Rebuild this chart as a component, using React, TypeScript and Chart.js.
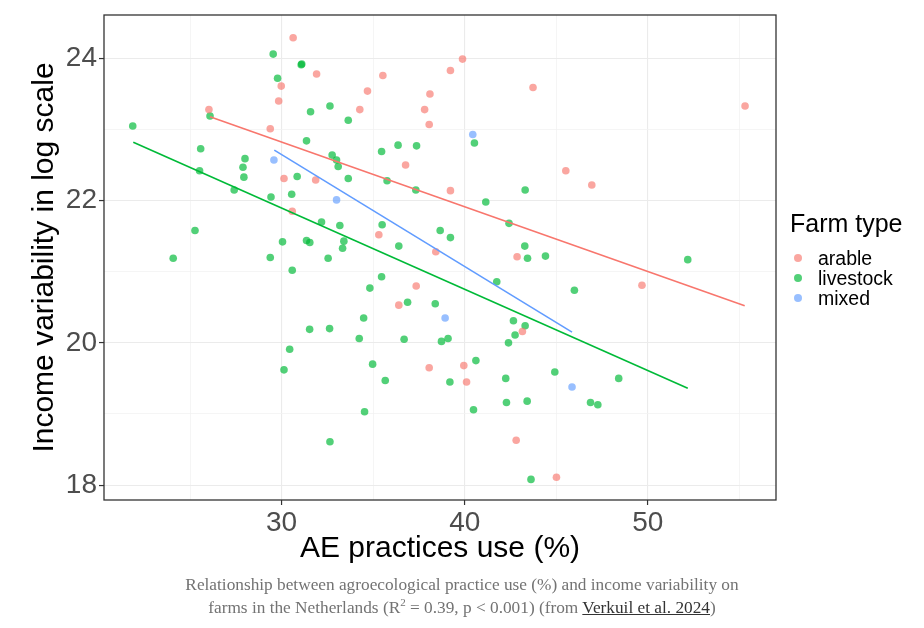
import React, { useEffect, useRef } from "react";
import { Chart, registerables } from "chart.js";

Chart.register(...registerables);

// ---- Data ----
const arableX = [30.63, 31.91, 29.98, 29.84, 26.03, 29.38, 30.13, 31.86, 30.58, 34.27, 34.69, 35.53, 39.22, 39.88, 38.1, 37.81, 38.06, 43.73, 45.52, 36.77, 39.22, 35.31, 38.42, 42.86, 55.31, 46.94, 37.35, 36.4, 43.15, 38.06, 39.95, 40.1, 42.81, 45.01, 49.68];
const arableY = [24.29, 23.78, 23.61, 23.4, 23.28, 23.01, 22.31, 22.29, 21.85, 23.28, 23.54, 23.76, 23.83, 23.99, 23.5, 23.28, 23.07, 23.59, 22.42, 22.5, 22.14, 21.52, 21.28, 21.21, 23.33, 22.22, 20.8, 20.53, 20.16, 19.65, 19.68, 19.45, 18.63, 18.11, 20.81];

const livestockX = [29.54, 31.07, 31.1, 29.78, 26.09, 32.64, 31.58, 21.87, 31.36, 32.76, 33.0, 33.09, 25.58, 28.0, 27.89, 25.52, 27.94, 27.41, 30.85, 29.42, 30.55, 25.27, 30.05, 31.36, 31.54, 32.18, 33.18, 24.08, 29.38, 32.54, 30.58, 31.53, 32.62, 30.44, 30.13, 32.64, 33.64, 40.53, 35.46, 36.36, 37.37, 33.64, 35.76, 37.33, 43.3, 41.15, 35.49, 33.4, 33.33, 36.4, 38.66, 39.22, 42.42, 43.43, 44.41, 43.28, 52.18, 35.46, 34.82, 36.88, 38.39, 41.75, 34.48, 34.24, 36.69, 38.73, 39.09, 42.66, 43.3, 42.75, 42.39, 34.97, 35.66, 40.61, 39.19, 42.24, 44.92, 42.28, 43.41, 34.53, 40.48, 43.62, 45.99, 48.41, 46.87, 47.27];
const livestockY = [24.06, 23.91, 23.92, 23.72, 23.19, 23.33, 23.25, 23.05, 22.84, 22.64, 22.57, 22.48, 22.73, 22.59, 22.47, 22.42, 22.33, 22.15, 22.34, 22.05, 22.09, 21.58, 21.42, 21.44, 21.41, 21.7, 21.65, 21.19, 21.2, 21.19, 21.02, 20.19, 20.2, 19.91, 19.62, 18.61, 23.13, 22.81, 22.69, 22.78, 22.77, 22.31, 22.28, 22.15, 22.15, 21.98, 21.66, 21.43, 21.33, 21.36, 21.58, 21.48, 21.68, 21.19, 21.22, 21.36, 21.17, 20.93, 20.77, 20.57, 20.55, 20.86, 20.35, 20.06, 20.05, 20.02, 20.06, 20.31, 20.24, 20.11, 20.0, 19.7, 19.47, 19.75, 19.45, 19.5, 19.59, 19.16, 19.18, 19.03, 19.06, 18.08, 20.74, 19.5, 19.16, 19.13];

const mixedX = [29.58, 33.0, 40.44, 38.93, 45.86];
const mixedY = [22.57, 22.01, 22.93, 20.35, 19.38];

// Fitted regression lines (end points)
const arableFitX = [26.09, 55.29];
const arableFitY = [23.18, 20.52];
const livestockFitX = [21.9, 52.18];
const livestockFitY = [22.82, 19.36];
const mixedFitX = [29.6, 45.86];
const mixedFitY = [22.71, 20.15];

// Axes
const xTicks = [25, 30, 35, 40, 45, 50, 55];
const xMajor = [30, 40, 50];
const yTicks = [18, 19, 20, 21, 22, 23, 24];
const yMajor = [18, 20, 22, 24];
const xMin = 20.3;
const xMax = 57.0;
const yMin = 17.79;
const yMax = 24.61;

const seriesNames = ["arable", "livestock", "mixed"];
const pointColors = ["rgba(248,118,109,0.65)", "rgba(0,186,56,0.68)", "rgba(97,156,255,0.65)"];
const lineColors = ["#F8766D", "#00BA38", "#619CFF"];

const zip = (xs: number[], ys: number[]) => xs.map((x, i) => ({ x, y: ys[i] }));

const panelBorder = {
  id: "panelBorder",
  afterDraw(chart: any) {
    const { ctx, chartArea } = chart;
    ctx.save();
    ctx.strokeStyle = "#333333";
    ctx.lineWidth = 1.3;
    ctx.strokeRect(chartArea.left, chartArea.top, chartArea.right - chartArea.left, chartArea.bottom - chartArea.top);
    ctx.restore();
  },
};

const FONT = "'Liberation Sans', Arial, sans-serif";

export default function App() {
  const canvasRef = useRef<HTMLCanvasElement | null>(null);

  useEffect(() => {
    if (!canvasRef.current) return;
    const pointSets = [zip(arableX, arableY), zip(livestockX, livestockY), zip(mixedX, mixedY)];
    const fitSets = [zip(arableFitX, arableFitY), zip(livestockFitX, livestockFitY), zip(mixedFitX, mixedFitY)];
    const datasets: any[] = [];
    fitSets.forEach((d, i) => {
      datasets.push({
        type: "line",
        label: seriesNames[i] + " fit",
        data: d,
        borderColor: lineColors[i],
        borderWidth: 1.6,
        pointRadius: 0,
        fill: false,
        showLine: true,
        order: 0,
      });
    });
    pointSets.forEach((d, i) => {
      datasets.push({
        type: "scatter",
        label: seriesNames[i],
        data: d,
        backgroundColor: pointColors[i],
        borderWidth: 0,
        pointRadius: 3.8,
        order: 1,
      });
    });

    const chart = new Chart(canvasRef.current, {
      type: "scatter",
      data: { datasets },
      plugins: [panelBorder],
      options: {
        responsive: false,
        animation: false,
        devicePixelRatio: 1,
        layout: { padding: { top: 15, right: 148, left: 0, bottom: 0 } },
        plugins: { legend: { display: false }, tooltip: { enabled: false } },
        scales: {
          x: {
            type: "linear",
            min: xMin,
            max: xMax,
            afterBuildTicks: (scale: any) => {
              scale.ticks = xTicks.map((v) => ({ value: v }));
            },
            afterFit: (scale: any) => {
              scale.height = 128;
              scale.paddingLeft = 0;
              scale.paddingRight = 0;
            },
            border: { display: false },
            grid: {
              color: (c: any) => (xMajor.includes(c.tick?.value) ? "#ebebeb" : "#f3f3f3"),
              lineWidth: (c: any) => (xMajor.includes(c.tick?.value) ? 1.1 : 0.8),
              tickColor: (c: any) => (xMajor.includes(c.tick?.value) ? "#333333" : "rgba(0,0,0,0)"),
              tickLength: 5,
              tickWidth: 1.2,
            },
            ticks: {
              autoSkip: false,
              maxRotation: 0,
              padding: 1,
              color: "#4d4d4d",
              font: { family: FONT, size: 28 },
              callback: (v: any) => (xMajor.includes(Number(v)) ? String(v) : ""),
            },
            title: {
              display: true,
              text: "AE practices use (%)",
              color: "#000000",
              font: { family: FONT, size: 30 },
              padding: { top: 0, bottom: 61 },
            },
          },
          y: {
            type: "linear",
            min: yMin,
            max: yMax,
            afterBuildTicks: (scale: any) => {
              scale.ticks = yTicks.map((v) => ({ value: v }));
            },
            afterFit: (scale: any) => {
              scale.width = 104;
              scale.paddingTop = 0;
              scale.paddingBottom = 0;
            },
            border: { display: false },
            grid: {
              color: (c: any) => (yMajor.includes(c.tick?.value) ? "#ebebeb" : "#f3f3f3"),
              lineWidth: (c: any) => (yMajor.includes(c.tick?.value) ? 1.1 : 0.8),
              tickColor: (c: any) => (yMajor.includes(c.tick?.value) ? "#333333" : "rgba(0,0,0,0)"),
              tickLength: 5,
              tickWidth: 1.2,
            },
            ticks: {
              autoSkip: false,
              padding: 2,
              color: "#4d4d4d",
              font: { family: FONT, size: 28 },
              callback: (v: any) => (yMajor.includes(Number(v)) ? String(v) : ""),
            },
            title: {
              display: true,
              text: "Income variability in log scale",
              color: "#000000",
              font: { family: FONT, size: 30 },
              padding: { top: 27, bottom: 0 },
            },
          },
        },
      } as any,
    });
    return () => chart.destroy();
  }, []);

  const legendItems = seriesNames.map((name, i) => (
    <div
      key={name}
      style={{ position: "absolute", left: 792, top: 248 + i * 20, height: 20, display: "flex", alignItems: "center" }}
    >
      <span
        style={{ width: 8, height: 8, borderRadius: 4, background: pointColors[i], display: "inline-block", marginLeft: 2 }}
      />
      <span style={{ marginLeft: 16, fontFamily: FONT, fontSize: 19.5, color: "#000", lineHeight: "20px" }}>{name}</span>
    </div>
  ));

  return (
    <div style={{ position: "absolute", left: 0, top: 0, width: 924, height: 628, background: "#fff", overflow: "hidden" }}>
      <canvas ref={canvasRef} width={924} height={628} style={{ position: "absolute", left: 0, top: 0, width: 924, height: 628 }} />
      <div style={{ position: "absolute", left: 790, top: 208, fontFamily: FONT, fontSize: 25, color: "#000", lineHeight: "30px" }}>
        Farm type
      </div>
      {legendItems}
      <div
        style={{
          position: "absolute",
          left: 0,
          top: 573,
          width: 924,
          textAlign: "center",
          fontFamily: "'Liberation Serif', 'DejaVu Serif', serif",
          fontSize: 17.3,
          lineHeight: "23px",
          color: "#737373",
        }}
      >
        Relationship between agroecological practice use (%) and income variability on
        <br />
        farms in the Netherlands (R<sup style={{ fontSize: 11, lineHeight: 0 }}>2</sup> = 0.39, p &lt; 0.001) (from{" "}
        <span style={{ textDecoration: "underline", color: "#333" }}>Verkuil et al. 2024</span>)
      </div>
    </div>
  );
}
